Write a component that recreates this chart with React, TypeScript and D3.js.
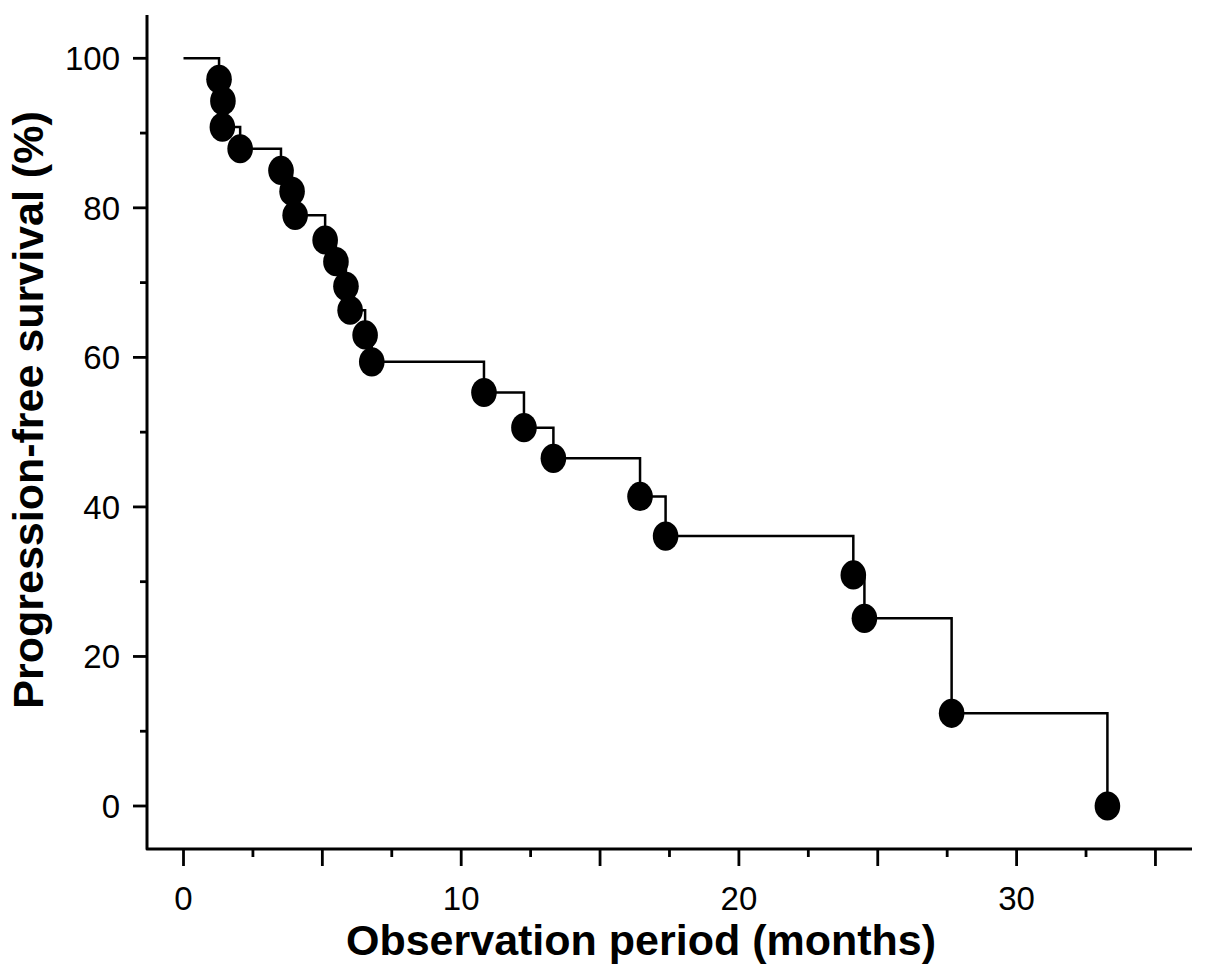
import React from "react";
import * as d3 from "d3";

// Event times (months) and progression-free survival (%)
const eventMonths = [1.28, 1.42, 1.4, 2.04, 3.51, 3.91, 4.02, 5.1, 5.49, 5.85, 6.0, 6.54, 6.78, 10.82, 12.26, 13.32, 16.44, 17.36, 24.12, 24.52, 27.66, 33.27];
const survivalPct = [97.2, 94.3, 90.8, 87.9, 85.0, 82.2, 79.0, 75.7, 72.8, 69.5, 66.3, 63.0, 59.4, 55.3, 50.6, 46.5, 41.4, 36.1, 30.9, 25.1, 12.4, 0];
const startPoint = { t: 0, s: 100 };

const xMajorTicks = [0, 5, 10, 15, 20, 25, 30, 35];
const xMinorTicks = [2.5, 7.5, 12.5, 17.5, 22.5, 27.5, 32.5];
const xLabelTicks = [0, 10, 20, 30];
const yMajorTicks = [0, 20, 40, 60, 80, 100];
const yMinorTicks = [10, 30, 50, 70, 90];

const xTitle = "Observation period (months)";
const yTitle = "Progression-free survival (%)";

const W = 1205;
const H = 978;
const FONT = "'Liberation Sans', Arial, Helvetica, sans-serif";

export default function App() {
  const x = d3.scaleLinear().domain([0, 30]).range([183.5, 1016.6]);
  const y = d3.scaleLinear().domain([0, 100]).range([806, 58.3]);

  const axisX0 = 147;
  const axisX1 = 1192;
  const axisYTop = 15;
  const axisYBottom = 849;

  const pts = [startPoint, ...eventMonths.map((t, i) => ({ t, s: survivalPct[i] }))];
  const line = d3
    .line<{ t: number; s: number }>()
    .x((d) => x(d.t))
    .y((d) => y(d.s))
    .curve(d3.curveStepAfter);

  return (
    <svg
      width={W}
      height={H}
      style={{ position: "absolute", left: 0, top: 0, background: "#fff" }}
      fontFamily={FONT}
    >
      <rect x={0} y={0} width={W} height={H} fill="#fff" />
      {/* axes lines */}
      <path
        d={`M${axisX0},${axisYTop}V${axisYBottom}H${axisX1}`}
        fill="none"
        stroke="#000"
        strokeWidth={3}
        strokeLinejoin="round"
      />
      {/* y ticks */}
      {yMajorTicks.map((v) => (
        <line key={"ym" + v} x1={133} x2={axisX0} y1={y(v)} y2={y(v)} stroke="#000" strokeWidth={2.8} />
      ))}
      {yMinorTicks.map((v) => (
        <line key={"yn" + v} x1={140} x2={axisX0} y1={y(v)} y2={y(v)} stroke="#000" strokeWidth={2.8} />
      ))}
      {yMajorTicks.map((v) => (
        <text key={"yl" + v} x={120} y={y(v) + 12} fontSize={33} textAnchor="end" fill="#000">
          {v}
        </text>
      ))}
      {/* x ticks */}
      {xMajorTicks.map((v) => (
        <line key={"xm" + v} x1={x(v)} x2={x(v)} y1={axisYBottom} y2={866} stroke="#000" strokeWidth={2.8} />
      ))}
      {xMinorTicks.map((v) => (
        <line key={"xn" + v} x1={x(v)} x2={x(v)} y1={axisYBottom} y2={857} stroke="#000" strokeWidth={2.8} />
      ))}
      {xLabelTicks.map((v) => (
        <text key={"xl" + v} x={x(v)} y={910} fontSize={33} textAnchor="middle" fill="#000">
          {v}
        </text>
      ))}
      {/* titles */}
      <text x={641} y={955} fontSize={43} fontWeight="bold" textAnchor="middle" fill="#000">
        {xTitle}
      </text>
      <text
        transform="translate(43,410) rotate(-90)"
        fontSize={43}
        fontWeight="bold"
        textAnchor="middle"
        fill="#000"
      >
        {yTitle}
      </text>
      {/* survival curve */}
      <path d={line(pts) || ""} fill="none" stroke="#000" strokeWidth={2.5} />
      {pts.slice(1).map((d, i) => (
        <ellipse key={"pt" + i} cx={x(d.t)} cy={y(d.s)} rx={12.8} ry={14.6} fill="#000" />
      ))}
    </svg>
  );
}
